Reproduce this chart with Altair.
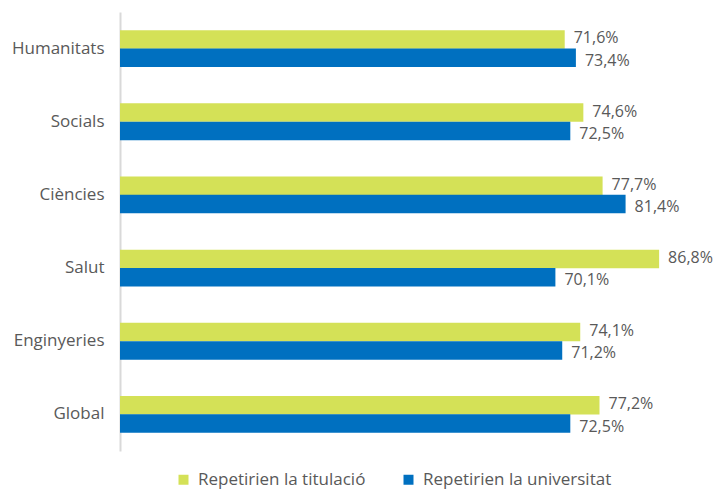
import altair as alt
import pandas as pd

categories = ["Humanitats", "Socials", "Ciències", "Salut", "Enginyeries", "Global"]
series = ["Repetirien la titulació", "Repetirien la universitat"]
titulacio = [71.6, 74.6, 77.7, 86.8, 74.1, 77.2]
universitat = [73.4, 72.5, 81.4, 70.1, 71.2, 72.5]
colors = ["#d4e157", "#0070c0"]

rows = []
for i, c in enumerate(categories):
    for s, vals in zip(series, [titulacio, universitat]):
        v = vals[i]
        rows.append({"cat": c, "serie": s, "value": v,
                     "label": f"{v:.1f}".replace(".", ",") + "%"})
df = pd.DataFrame(rows)

FONT = "Open Sans"
y_enc = alt.Y("cat:N", sort=categories, title=None,
              scale=alt.Scale(paddingInner=0.5, paddingOuter=0.25),
              axis=alt.Axis(ticks=False, domainColor="#d9d9d9", domainWidth=2,
                            labelColor="#595959", labelFontSize=17, labelFont=FONT,
                            labelPadding=16, grid=False))
yoff = alt.YOffset("serie:N", sort=series)
x_enc = alt.X("value:Q", scale=alt.Scale(domain=[0, 90]), axis=None)

bars = alt.Chart(df).mark_bar(size=18.5).encode(
    y=y_enc, yOffset=yoff, x=x_enc,
    color=alt.Color("serie:N", sort=series,
                    scale=alt.Scale(domain=series, range=colors),
                    legend=alt.Legend(title=None, orient="none", direction="horizontal",
                                      legendX=55, legendY=459, symbolType="square",
                                      symbolSize=100, symbolStrokeWidth=0,
                                      labelOffset=6,
                                      labelFontSize=17, labelFont=FONT, labelLimit=0,
                                      labelColor="#595959", columnPadding=34,
                                      symbolOpacity=1)),
)

def labels(serie, dy):
    return alt.Chart(df).transform_filter(alt.datum.serie == serie).mark_text(
        align="left", baseline="middle", dx=9, dy=dy,
        fontSize=16, font=FONT, color="#595959").encode(
        y=alt.Y("cat:N", sort=categories), yOffset=yoff, x=x_enc, text="label:N")

chart = (bars + labels(series[0], -1) + labels(series[1], 3)).properties(
    width=559, height=439,
    autosize=alt.AutoSizeParams(type="none"),
    padding={"left": 112, "top": 4, "right": 34, "bottom": 41},
).configure_view(stroke=None)

chart.save("out.html", embed_options={"renderer": "svg", "actions": False})
